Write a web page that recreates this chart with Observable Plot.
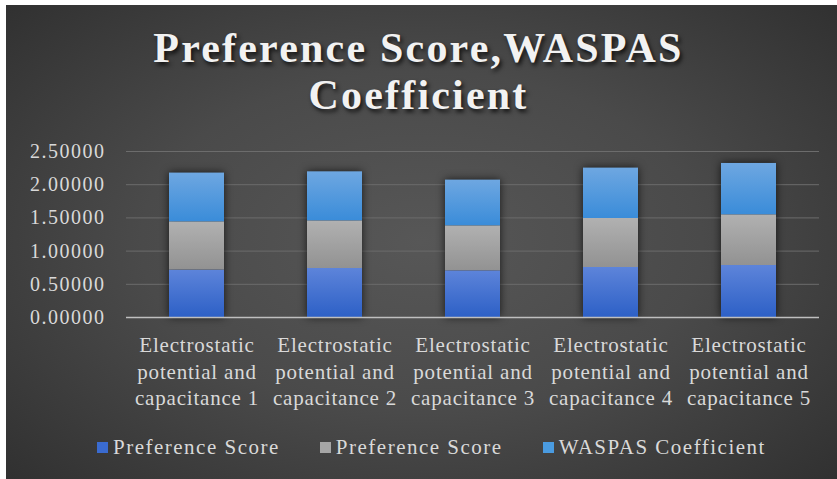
<!DOCTYPE html>
<html>
<head>
<meta charset="utf-8">
<script src="https://cdn.jsdelivr.net/npm/d3@7"></script>
<script src="https://cdn.jsdelivr.net/npm/@observablehq/plot@0.6"></script>
<style>
  html, body { margin: 0; padding: 0; background: #ffffff; }
  #wrap { position: relative; width: 837px; height: 479px; overflow: hidden; background: #ffffff; }
  #bg { position: absolute; left: 6px; top: 5px; right: 0; bottom: 0;
        background: radial-gradient(ellipse 75% 80% at 50% 50%, #575757 0%, #4a4a4a 45%, #2c2c2c 100%); }
  #title { position: absolute; left: 0; top: 25px; width: 837px; text-align: center;
           font-family: "Liberation Serif", "Times New Roman", serif; font-weight: bold;
           font-size: 42px; line-height: 47px; letter-spacing: 2.2px; color: #f2f2f2;
           text-shadow: 2px 3px 4px rgba(0,0,0,0.75); }
  #chart { position: absolute; left: 0; top: 130px; }
  #legend { position: absolute; left: 97px; top: 435px; display: flex; gap: 40px;
            font-family: "Liberation Serif", "Times New Roman", serif; font-size: 21px; line-height: 24px;
            letter-spacing: 1.5px; color: #d9d9d9; }
  .item { display: flex; align-items: center; }
  .sw { width: 11px; height: 11px; margin-right: 5px; }
</style>
</head>
<body>
<div id="wrap">
  <div id="bg"></div>
  <div id="title">Preference Score,WASPAS<br>Coefficient</div>
  <div id="chart"></div>
  <div id="legend"></div>
</div>
<script>
const categories = [
  "Electrostatic\npotential and\ncapacitance 1",
  "Electrostatic\npotential and\ncapacitance 2",
  "Electrostatic\npotential and\ncapacitance 3",
  "Electrostatic\npotential and\ncapacitance 4",
  "Electrostatic\npotential and\ncapacitance 5"
];
const seriesNames = ["Preference Score", "Preference Score", "WASPAS Coefficient"];
const preferenceScoreA = [0.714, 0.738, 0.703, 0.753, 0.783];
const preferenceScoreB = [0.727, 0.718, 0.678, 0.738, 0.764];
const waspasCoefficient = [0.734, 0.738, 0.688, 0.759, 0.773];
const yTicks = [0, 0.5, 1.0, 1.5, 2.0, 2.5];
const seriesColors = ["#3a6bd0", "#a6a6a6", "#4a9be0"];
const gradientIds = ["url(#gBlue)", "url(#gGray)", "url(#gLight)"];

const seriesValues = [preferenceScoreA, preferenceScoreB, waspasCoefficient];
const data = [];
seriesValues.forEach((vals, sid) => {
  vals.forEach((v, i) => data.push({cat: categories[i], sid, value: v}));
});

const plot = Plot.plot({
  width: 837,
  height: 290,
  marginLeft: 126,
  marginRight: 18,
  marginTop: 21,
  marginBottom: 103,
  style: {background: "transparent", color: "#d9d9d9", fontFamily: "'Liberation Serif', 'Times New Roman', serif", overflow: "visible"},
  x: {domain: categories, paddingInner: 0.6, paddingOuter: 0.3, label: null},
  y: {domain: [0, 2.5], label: null},
  color: {type: "ordinal", domain: [0, 1, 2], range: gradientIds},
  marks: [
    Plot.gridY(yTicks, {stroke: "#6c6c6c", strokeOpacity: 1, strokeWidth: 1}),
    Plot.axisY(yTicks, {tickSize: 0, tickPadding: 21, tickFormat: d => d.toFixed(5), fontSize: 20, fill: "#d9d9d9", label: null}),
    Plot.barY(data, Plot.stackY({x: "cat", y: "value", fill: "sid", order: null})),
    Plot.ruleY([0], {stroke: "#bfbfbf", strokeWidth: 1.5}),
    Plot.axisX({tickSize: 0, tickPadding: 16, fontSize: 21, lineHeight: 1.26, tickFormat: d => d, fill: "#d9d9d9", label: null})
  ]
});

const ns = "http://www.w3.org/2000/svg";
const defs = document.createElementNS(ns, "defs");
defs.innerHTML = `
  <linearGradient id="gBlue" x1="0" y1="0" x2="0" y2="1">
    <stop offset="0" stop-color="#5d84da"/><stop offset="1" stop-color="#2d60c6"/>
  </linearGradient>
  <linearGradient id="gGray" x1="0" y1="0" x2="0" y2="1">
    <stop offset="0" stop-color="#b1b1b1"/><stop offset="1" stop-color="#929292"/>
  </linearGradient>
  <linearGradient id="gLight" x1="0" y1="0" x2="0" y2="1">
    <stop offset="0" stop-color="#6ea7e1"/><stop offset="1" stop-color="#3a8cd9"/>
  </linearGradient>`;
plot.insertBefore(defs, plot.firstChild);

plot.querySelectorAll('g[aria-label="bar"]').forEach(g => {
  g.style.filter = "drop-shadow(0px 0px 4px rgba(0,0,0,0.7))";
});
plot.querySelectorAll('g[aria-label="x-axis tick label"]').forEach(g => {
  g.style.letterSpacing = "0.8px";
});
plot.querySelectorAll('g[aria-label="y-axis tick label"]').forEach(g => {
  g.style.letterSpacing = "1.5px";
});

document.getElementById("chart").appendChild(plot);

const legend = document.getElementById("legend");
seriesNames.forEach((name, i) => {
  const item = document.createElement("div");
  item.className = "item";
  const sw = document.createElement("div");
  sw.className = "sw";
  sw.style.background = seriesColors[i];
  const t = document.createElement("span");
  t.textContent = name;
  item.appendChild(sw);
  item.appendChild(t);
  legend.appendChild(item);
});
</script>
</body>
</html>
